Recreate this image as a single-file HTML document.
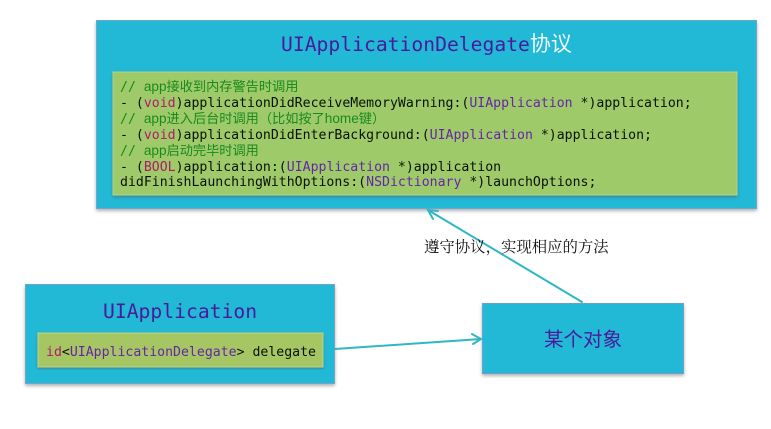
<!DOCTYPE html>
<html>
<head>
<meta charset="utf-8">
<style>
html,body{margin:0;padding:0;background:#fff;width:771px;height:429px;overflow:hidden}
svg{display:block}
.m{font-family:"DejaVu Sans Mono","Liberation Mono","Noto Sans CJK SC",monospace;font-size:13.2px;fill:#0a1208}
.t{font-family:"DejaVu Sans Mono","Liberation Mono","Noto Sans CJK SC",monospace;font-size:19.7px;fill:#4a1a9c}
.g{fill:#1a8a1e}
.p{fill:#6426a6}
.r{fill:#b01a6a}
.z{font-family:"Noto Sans CJK SC",sans-serif;font-size:13.2px}
.l{font-family:"Liberation Sans",sans-serif;font-size:13.6px}
.c{font-family:"Liberation Serif","Noto Serif CJK SC",serif}
</style>
</head>
<body>
<svg width="771" height="429" viewBox="0 0 771 429" xmlns="http://www.w3.org/2000/svg">
<defs>
<filter id="s" x="-5%" y="-5%" width="110%" height="112%"><feDropShadow dx="0" dy="2" stdDeviation="1.5" flood-color="#555" flood-opacity=".45"/></filter>
</defs>

<!-- Protocol box -->
<rect x="96.5" y="20.5" width="660" height="188" fill="#22b9d6" stroke="#6fa6c8" filter="url(#s)"/>
<text x="281" y="51" class="t">UIApplicationDelegate<tspan font-family="'Noto Sans CJK SC',sans-serif" fill="#f0fafc" font-size="21">协议</tspan></text>
<rect x="113" y="72" width="624" height="123" fill="#9fca6a" stroke="#b6d48c" filter="url(#s)"/>
<text x="120" y="91" class="m g">// <tspan class="l">app</tspan><tspan class="z">接收到内存警告时调用</tspan></text>
<text x="120" y="107" class="m">- (<tspan class="r">void</tspan>)applicationDidReceiveMemoryWarning:(<tspan class="p">UIApplication</tspan> *)application;</text>
<text x="120" y="123" class="m g">// <tspan class="l">app</tspan><tspan class="z">进入后台时调用（比如按了</tspan><tspan class="l">home</tspan><tspan class="z">键）</tspan></text>
<text x="120" y="139" class="m">- (<tspan class="r">void</tspan>)applicationDidEnterBackground:(<tspan class="p">UIApplication</tspan> *)application;</text>
<text x="120" y="155" class="m g">// <tspan class="l">app</tspan><tspan class="z">启动完毕时调用</tspan></text>
<text x="120" y="171" class="m">- (<tspan class="r">BOOL</tspan>)application:(<tspan class="p">UIApplication</tspan> *)application</text>
<text x="120" y="186" class="m">didFinishLaunchingWithOptions:(<tspan class="p">NSDictionary</tspan> *)launchOptions;</text>

<!-- UIApplication box -->
<rect x="25.5" y="284.5" width="309" height="99" fill="#22b9d6" stroke="#6fa6c8" filter="url(#s)"/>
<text x="103" y="318" class="t">UIApplication</text>
<rect x="38" y="333" width="285" height="34" fill="#a5c662" stroke="#bcd48c" filter="url(#s)"/>
<text x="46" y="356" class="m"><tspan class="r">id</tspan>&lt;<tspan class="p">UIApplicationDelegate</tspan>&gt; delegate</text>

<!-- Object box -->
<rect x="482.5" y="303.5" width="201" height="70" fill="#22b9d6" stroke="#6f9ec8" filter="url(#s)"/>
<text x="544" y="346" font-family="'Noto Sans CJK SC',sans-serif" font-size="19.5" fill="#4a1a9c">某个对象</text>

<!-- Connectors -->
<g fill="none" stroke="#2fb8c4" stroke-width="2" stroke-linecap="round">
<path d="M335 349 L481 339"/>
<path d="M472 334 L481 339 L473 344"/>
<path d="M582 302 L428 210"/>
<path d="M438 211 L428 210 L433 219"/>
</g>

<text x="424" y="252" class="c" font-size="15.4" fill="#111">遵守协议，实现相应的方法</text>
</svg>
</body>
</html>
